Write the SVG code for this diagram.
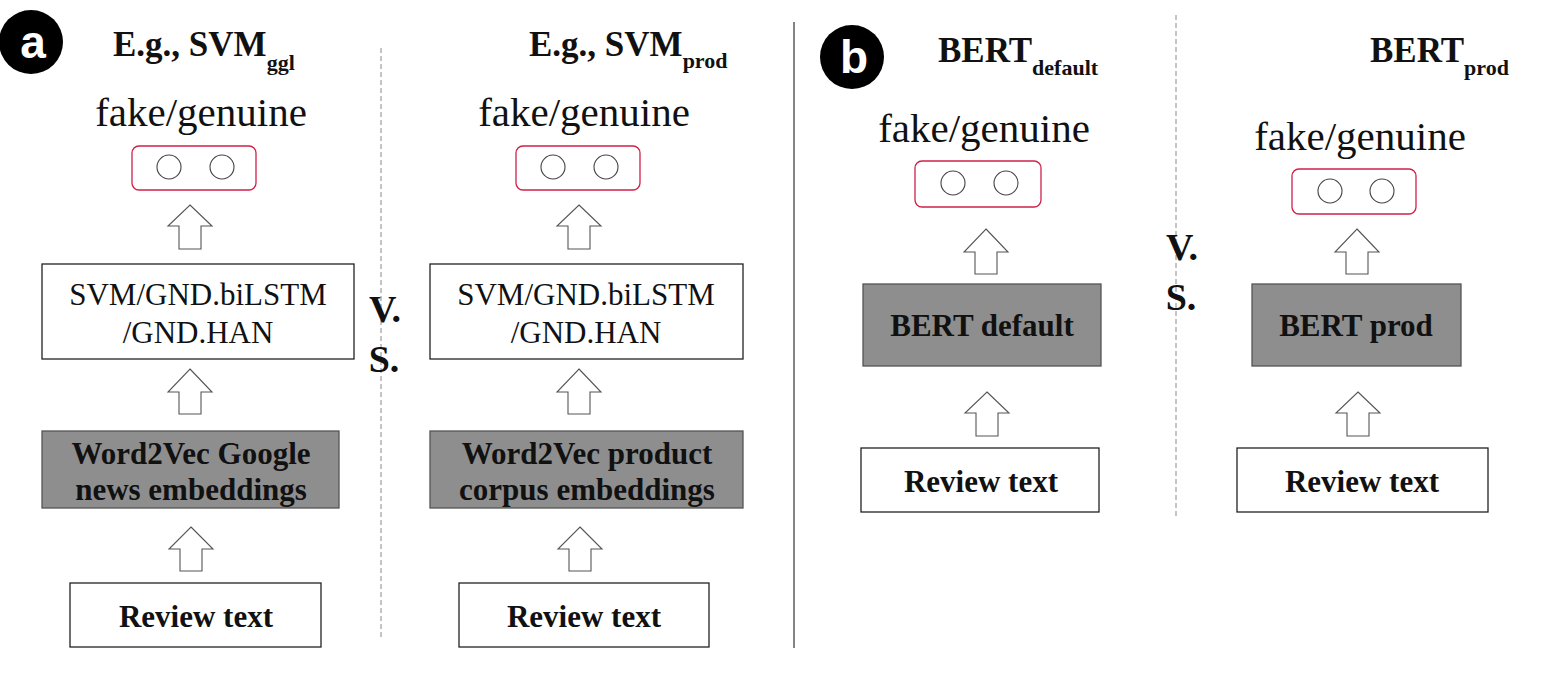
<svg xmlns="http://www.w3.org/2000/svg" width="1551" height="674" viewBox="0 0 1551 674">
<style>
.bg{fill:#ffffff}
.box{fill:#ffffff;stroke:#222;stroke-width:1.3}
.gbox{fill:#8e8e8e;stroke:#555;stroke-width:1.3}
.out{fill:#ffffff;stroke:#d0204a;stroke-width:1.3}
.neu{fill:#ffffff;stroke:#444;stroke-width:1.1}
.arr{fill:#ffffff;stroke:#555;stroke-width:1.1}
.dash{stroke:#888;stroke-width:1;stroke-dasharray:5 3;fill:none}
.sep{stroke:#666;stroke-width:1.6}
.reg{font-family:"Liberation Serif","Times New Roman",serif;font-size:31px;fill:#111;text-anchor:middle}
.bold{font-family:"Liberation Serif","Times New Roman",serif;font-size:31px;font-weight:bold;fill:#111;text-anchor:middle}
.fg{font-family:"Liberation Serif","Times New Roman",serif;font-size:41px;fill:#111;text-anchor:middle}
.title{font-family:"Liberation Serif","Times New Roman",serif;font-size:35px;font-weight:bold;fill:#111}
.sub{font-size:22px}
.vs{font-family:"Liberation Serif","Times New Roman",serif;font-size:38px;font-weight:bold;fill:#111;text-anchor:middle}
.lab{font-family:"Liberation Sans",Arial,sans-serif;font-size:46px;font-weight:bold;fill:#ffffff;text-anchor:middle}
</style>
<rect class="bg" x="0" y="0" width="1551" height="674"/>

<g id="separators">
<line class="dash" x1="381" y1="48" x2="381" y2="640"/>
<line class="sep" x1="794" y1="22" x2="794" y2="648"/>
<line class="dash" x1="1176" y1="15" x2="1176" y2="518"/>
</g>

<g id="label-a">
<circle cx="31" cy="42" r="32" fill="#000"/>
<text class="lab" x="33" y="58">a</text>
</g>
<g id="label-b">
<circle cx="852" cy="57" r="32" fill="#000"/>
<text class="lab" x="854" y="73">b</text>
</g>

<g id="title-svm-ggl"><text class="title" x="113" y="56">E.g., SVM<tspan class="sub" dy="14">ggl</tspan></text></g>
<g id="title-svm-prod"><text class="title" x="529" y="56">E.g., SVM<tspan class="sub" dy="12">prod</tspan></text></g>
<g id="title-bert-default"><text class="title" x="938" y="62">BERT<tspan class="sub" dy="13">default</tspan></text></g>
<g id="title-bert-prod"><text class="title" x="1370" y="62">BERT<tspan class="sub" dy="13">prod</tspan></text></g>

<g id="vs-a"><text class="vs" x="385" y="322">V.</text><text class="vs" x="384" y="372">S.</text></g>
<g id="vs-b"><text class="vs" x="1182" y="260">V.</text><text class="vs" x="1181" y="310">S.</text></g>

<!-- Panel a left -->
<g id="out-a1">
<text class="fg" x="201" y="126">fake/genuine</text>
<rect class="out" x="132" y="146" width="124" height="44" rx="7"/>
<circle class="neu" cx="169" cy="167" r="12"/>
<circle class="neu" cx="222" cy="167" r="12"/>
</g>
<g id="model-a1">
<rect class="box" x="42" y="264" width="312" height="95"/>
<text class="reg" x="198" y="305">SVM/GND.biLSTM</text>
<text class="reg" x="198" y="343">/GND.HAN</text>
</g>
<g id="emb-a1">
<rect class="gbox" x="42" y="431" width="297" height="77"/>
<text class="bold" x="191" y="464">Word2Vec Google</text>
<text class="bold" x="191" y="500">news embeddings</text>
</g>
<g id="input-a1">
<rect class="box" x="70" y="583" width="251" height="64"/>
<text class="bold" x="196" y="627">Review text</text>
</g>

<!-- Panel a right -->
<g id="out-a2">
<text class="fg" x="584" y="126">fake/genuine</text>
<rect class="out" x="516" y="146" width="124" height="44" rx="7"/>
<circle class="neu" cx="553" cy="167" r="12"/>
<circle class="neu" cx="606" cy="167" r="12"/>
</g>
<g id="model-a2">
<rect class="box" x="430" y="264" width="313" height="95"/>
<text class="reg" x="586" y="305">SVM/GND.biLSTM</text>
<text class="reg" x="586" y="343">/GND.HAN</text>
</g>
<g id="emb-a2">
<rect class="gbox" x="430" y="431" width="313" height="77"/>
<text class="bold" x="587" y="464">Word2Vec product</text>
<text class="bold" x="587" y="500">corpus embeddings</text>
</g>
<g id="input-a2">
<rect class="box" x="459" y="583" width="250" height="64"/>
<text class="bold" x="584" y="627">Review text</text>
</g>

<!-- Panel b left -->
<g id="out-b1">
<text class="fg" x="984" y="142">fake/genuine</text>
<rect class="out" x="915" y="161" width="126" height="46" rx="7"/>
<circle class="neu" cx="953" cy="183" r="12"/>
<circle class="neu" cx="1006" cy="183" r="12"/>
</g>
<g id="model-b1">
<rect class="gbox" x="863" y="284" width="238" height="82"/>
<text class="bold" x="982" y="336">BERT default</text>
</g>
<g id="input-b1">
<rect class="box" x="861" y="448" width="238" height="64"/>
<text class="bold" x="981" y="492">Review text</text>
</g>

<!-- Panel b right -->
<g id="out-b2">
<text class="fg" x="1360" y="150">fake/genuine</text>
<rect class="out" x="1292" y="169" width="124" height="45" rx="7"/>
<circle class="neu" cx="1330" cy="191" r="12"/>
<circle class="neu" cx="1382" cy="191" r="12"/>
</g>
<g id="model-b2">
<rect class="gbox" x="1252" y="284" width="209" height="82"/>
<text class="bold" x="1356" y="336">BERT prod</text>
</g>
<g id="input-b2">
<rect class="box" x="1237" y="448" width="251" height="64"/>
<text class="bold" x="1362" y="492">Review text</text>
</g>

<g id="connectors">
<path class="arr" d="M190 205 L212 226 L201 226 L201 249 L179 249 L179 226 L168 226 Z"/>
<path class="arr" d="M190 369 L212 392 L201 392 L201 414 L179 414 L179 392 L168 392 Z"/>
<path class="arr" d="M191 527 L213 549 L202 549 L202 571 L180 571 L180 549 L169 549 Z"/>
<path class="arr" d="M579 205 L601 226 L590 226 L590 249 L568 249 L568 226 L557 226 Z"/>
<path class="arr" d="M579 369 L601 392 L590 392 L590 414 L568 414 L568 392 L557 392 Z"/>
<path class="arr" d="M580 527 L602 549 L591 549 L591 571 L569 571 L569 549 L558 549 Z"/>
<path class="arr" d="M986 229 L1008 252 L997 252 L997 274 L975 274 L975 252 L964 252 Z"/>
<path class="arr" d="M987 392 L1009 413 L998 413 L998 436 L976 436 L976 413 L965 413 Z"/>
<path class="arr" d="M1357 229 L1379 252 L1368 252 L1368 274 L1346 274 L1346 252 L1335 252 Z"/>
<path class="arr" d="M1358 392 L1380 413 L1369 413 L1369 436 L1347 436 L1347 413 L1336 413 Z"/>
</g>
</svg>
